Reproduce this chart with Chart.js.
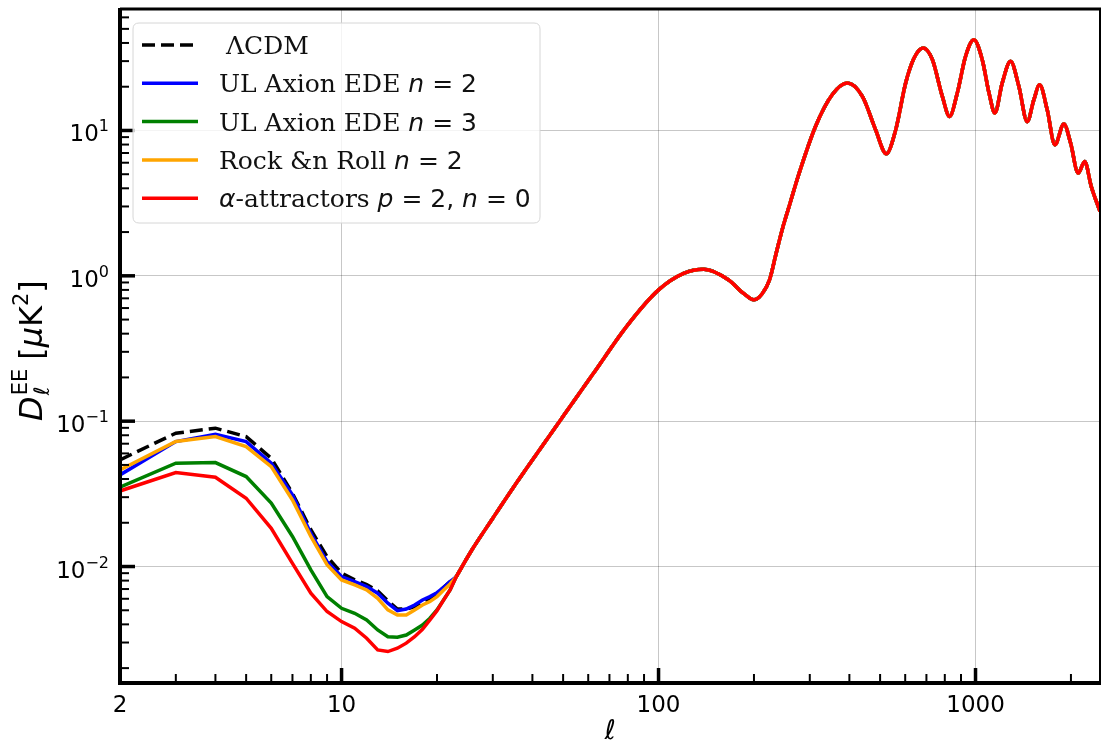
<!DOCTYPE html>
<html>
<head>
<meta charset="utf-8">
<script src="https://cdn.jsdelivr.net/npm/chart.js@4.4.0/dist/chart.umd.min.js"></script>
<style>
html, body { margin: 0; padding: 0; background: #fff; }
#wrap { width: 1101px; height: 743px; }
</style>
</head>
<body>
<div id="wrap"><canvas id="cl_ee" width="1101" height="743"></canvas></div>
<script>
// low multipoles, one value per integer ell
var ellLow = [2, 3, 4, 5, 6, 7, 8, 9, 10, 11, 12, 13, 14, 15, 16, 17, 18, 19, 20, 21, 22];
var lcdmLow   = [0.0542, 0.0827, 0.0895, 0.0783, 0.0556, 0.0319, 0.0179, 0.0117, 0.0090, 0.0081, 0.0075, 0.0068, 0.0058, 0.0051, 0.0051, 0.0053, 0.00574, 0.00604, 0.00655, 0.0072, 0.00787];
var axion2Low = [0.0427, 0.0724, 0.0813, 0.0724, 0.0514, 0.0311, 0.0169, 0.0108, 0.00853, 0.00787, 0.00727, 0.00655, 0.00559, 0.00497, 0.0051, 0.00544, 0.00589, 0.00621, 0.00661, 0.0072, 0.00787];
var axion3Low = [0.0351, 0.0514, 0.0519, 0.0416, 0.0273, 0.0161, 0.00948, 0.00621, 0.00516, 0.00477, 0.00429, 0.00366, 0.00329, 0.00326, 0.00338, 0.00366, 0.00396, 0.00441, 0.00503, 0.0059, 0.0069];
var rnrLow    = [0.0462, 0.0724, 0.0783, 0.0669, 0.0487, 0.0287, 0.0161, 0.0103, 0.00809, 0.00747, 0.0069, 0.00604, 0.00503, 0.00464, 0.00464, 0.00503, 0.00544, 0.00574, 0.00621, 0.0069, 0.00759];
var alphaLow  = [0.0331, 0.0443, 0.0411, 0.0295, 0.0183, 0.0105, 0.00655, 0.0049, 0.00418, 0.00376, 0.00321, 0.00267, 0.0026, 0.00274, 0.00297, 0.00329, 0.0037, 0.00429, 0.00497, 0.0059, 0.0069];

// all models sit on top of each other above ell ~ 23
var ellHigh = [23, 24, 26, 30, 35, 40, 50, 62, 80, 100, 120, 139, 166, 185, 200, 212, 224, 235, 247, 260, 277, 313, 353, 394, 440, 484, 523, 560, 602, 640, 684, 731, 786, 828, 876, 930, 988, 1050, 1103, 1151, 1214, 1290, 1370, 1456, 1528, 1593, 1683, 1780, 1900, 1995, 2108, 2210, 2318, 2470];
var tailHigh = [0.0085, 0.0100, 0.0134, 0.0215, 0.0355, 0.054, 0.108, 0.21, 0.46, 0.80, 1.04, 1.11, 0.94, 0.76, 0.684, 0.75, 0.94, 1.43, 2.18, 3.16, 5.0, 10.7, 17.6, 21.2, 17.1, 10.1, 6.91, 10.1, 21.2, 31.5, 36.9, 30.7, 17.1, 12.5, 18.1, 32.3, 42.1, 30.7, 18.1, 13.2, 21.2, 29.9, 20.1, 11.5, 16.3, 20.6, 13.9, 7.97, 11.1, 8.19, 5.09, 6.12, 4.12, 2.77];

var xTicks = [2, 3, 4, 5, 6, 7, 8, 9, 10, 20, 30, 40, 50, 60, 70, 80, 90, 100, 200, 300, 400, 500, 600, 700, 800, 900, 1000, 2000];
var xTickLabels = ['2', '10', '100', '1000'];
var yTicks = [0.002, 0.003, 0.004, 0.005, 0.006, 0.007, 0.008, 0.009, 0.01, 0.02, 0.03, 0.04, 0.05, 0.06, 0.07, 0.08, 0.09, 0.1, 0.2, 0.3, 0.4, 0.5, 0.6, 0.7, 0.8, 0.9, 1, 2, 3, 4, 5, 6, 7, 8, 9, 10, 20, 30, 40, 50, 60];
var yTickExps = [-2, -1, 0, 1];

var SERIF = '"DejaVu Serif", serif';
var SANS = '"DejaVu Sans", sans-serif';

function lowPoints(low){
    var pts = ellLow.map(function(l, i){ return {x: l, y: low[i]}; });
    pts.push({x: ellHigh[0], y: tailHigh[0]});
    return pts;
}
function tailPoints(){
    return ellHigh.map(function(l, i){ return {x: l, y: tailHigh[i]}; });
}

function isDecade(v){
    var l = Math.log10(v);
    return Math.abs(l - Math.round(l)) < 1e-6;
}

// pieces: [text, font, dy]
function piecesWidth(ctx, pieces){
    var w = 0;
    pieces.forEach(function(p){ ctx.font = p[1]; w += ctx.measureText(p[0]).width; });
    return w;
}
function drawPieces(ctx, x, y, pieces){
    var cx = x;
    pieces.forEach(function(p){
        ctx.font = p[1];
        ctx.fillText(p[0], cx, y + (p[2] || 0));
        cx += ctx.measureText(p[0]).width;
    });
    return cx;
}

var LF = 25;
var legendRows = [
    {color: '#000000', dash: [13, 6], x: 226, pieces: [['ΛCDM', LF + 'px ' + SERIF]]},
    {color: '#0000ff', dash: [], x: 219, pieces: [['UL Axion EDE ', LF + 'px ' + SERIF], ['n', 'italic ' + LF + 'px ' + SANS], [' = 2', LF + 'px ' + SANS]]},
    {color: '#008000', dash: [], x: 219, pieces: [['UL Axion EDE ', LF + 'px ' + SERIF], ['n', 'italic ' + LF + 'px ' + SANS], [' = 3', LF + 'px ' + SANS]]},
    {color: '#ffa500', dash: [], x: 219, pieces: [['Rock &n Roll ', LF + 'px ' + SERIF], ['n', 'italic ' + LF + 'px ' + SANS], [' = 2', LF + 'px ' + SANS]]},
    {color: '#ff0000', dash: [], x: 219, pieces: [['α', 'italic ' + LF + 'px ' + SANS], ['-attractors ', LF + 'px ' + SERIF], ['p', 'italic ' + LF + 'px ' + SANS], [' = 2, ', LF + 'px ' + SANS], ['n', 'italic ' + LF + 'px ' + SANS], [' = 0', LF + 'px ' + SANS]]}
];

var decor = {
    id: 'decor',
    afterDraw: function(chart){
        var ctx = chart.ctx, a = chart.chartArea;
        var xs = chart.scales.x, ys = chart.scales.y;
        ctx.save();
        ctx.fillStyle = '#000';
        ctx.strokeStyle = '#000';
        ctx.lineCap = 'butt';

        // inward ticks
        xTicks.forEach(function(v){
            var px = xs.getPixelForValue(v), big = isDecade(v);
            ctx.lineWidth = big ? 3.5 : 2;
            ctx.beginPath(); ctx.moveTo(px, a.bottom); ctx.lineTo(px, a.bottom - (big ? 15 : 9)); ctx.stroke();
        });
        yTicks.forEach(function(v){
            var py = ys.getPixelForValue(v), big = isDecade(v);
            ctx.lineWidth = big ? 3.5 : 2;
            ctx.beginPath(); ctx.moveTo(a.left, py); ctx.lineTo(a.left + (big ? 15 : 9), py); ctx.stroke();
        });

        // frame
        ctx.lineWidth = 4;
        ctx.beginPath(); ctx.moveTo(a.left, a.top - 1); ctx.lineTo(a.left, a.bottom + 2); ctx.stroke();
        ctx.beginPath(); ctx.moveTo(a.left - 2, a.bottom); ctx.lineTo(a.right + 1, a.bottom); ctx.stroke();
        ctx.lineWidth = 3;
        ctx.beginPath(); ctx.moveTo(a.left, a.top); ctx.lineTo(a.right + 1, a.top); ctx.stroke();
        ctx.lineWidth = 2;
        ctx.beginPath(); ctx.moveTo(a.right, a.top); ctx.lineTo(a.right, a.bottom); ctx.stroke();

        // x tick labels
        ctx.font = '23px ' + SANS;
        ctx.textAlign = 'center';
        ctx.textBaseline = 'alphabetic';
        xTickLabels.forEach(function(t){
            ctx.fillText(t, xs.getPixelForValue(Number(t)), a.bottom + 29);
        });

        // y tick labels 10^k
        ctx.textAlign = 'left';
        yTickExps.forEach(function(k){
            var py = ys.getPixelForValue(Math.pow(10, k));
            var ex = (k < 0 ? '\u2212' : '') + Math.abs(k);
            var pcs = [['10', '23px ' + SANS, 11], [ex, '16px ' + SANS, 1]];
            var w = piecesWidth(ctx, pcs);
            drawPieces(ctx, a.left - 11 - w, py, pcs);
        });

        // x title
        ctx.font = 'italic 27px ' + SANS;
        ctx.textAlign = 'center';
        ctx.fillText('\u2113', (a.left + a.right) / 2, 739);

        // y title, rotated; local x runs up the page
        ctx.save();
        ctx.translate(42, 0);
        ctx.rotate(-Math.PI / 2);
        ctx.textAlign = 'left';
        var big = 'px ' + SANS;
        ctx.font = 'italic 32' + big;
        var dx = -421;
        ctx.fillText('D', dx, 0);
        dx += ctx.measureText('D').width + 1;
        ctx.font = 'italic 21' + big;
        ctx.fillText('\u2113', dx, 7);
        ctx.font = '21' + big;
        ctx.fillText('EE', dx, -15);
        dx += ctx.measureText('EE').width + 9;
        var br = [['[', '32' + big, 0], ['\u03bc', 'italic 32' + big, 0], ['K', '32' + big, 0], ['2', '21' + big, -14], [']', '32' + big, 0]];
        drawPieces(ctx, dx, 0, br);
        ctx.restore();

        // legend
        var lx = 133, ly = 23, lw = 407, lh = 200, r = 6;
        ctx.beginPath();
        ctx.moveTo(lx + r, ly); ctx.lineTo(lx + lw - r, ly); ctx.quadraticCurveTo(lx + lw, ly, lx + lw, ly + r);
        ctx.lineTo(lx + lw, ly + lh - r); ctx.quadraticCurveTo(lx + lw, ly + lh, lx + lw - r, ly + lh);
        ctx.lineTo(lx + r, ly + lh); ctx.quadraticCurveTo(lx, ly + lh, lx, ly + lh - r);
        ctx.lineTo(lx, ly + r); ctx.quadraticCurveTo(lx, ly, lx + r, ly);
        ctx.closePath();
        ctx.fillStyle = 'rgba(255,255,255,0.8)';
        ctx.fill();
        ctx.strokeStyle = '#d6d6d6';
        ctx.lineWidth = 1;
        ctx.stroke();

        ctx.textAlign = 'left';
        legendRows.forEach(function(row, i){
            var cy = 45 + i * 38.3;
            ctx.strokeStyle = row.color;
            ctx.lineWidth = 3.5;
            ctx.setLineDash(row.dash);
            ctx.beginPath(); ctx.moveTo(142, cy); ctx.lineTo(198, cy); ctx.stroke();
            ctx.setLineDash([]);
            ctx.fillStyle = '#111';
            drawPieces(ctx, row.x, cy + 9, row.pieces);
        });
        ctx.restore();
    }
};

// each model: straight segments between integer ells, smooth shared tail
function modelSets(label, low, color, order, dash){
    var base = {
        borderColor: color,
        backgroundColor: color,
        borderWidth: 3.5,
        borderDash: dash || [],
        pointRadius: 0,
        fill: false,
        order: order
    };
    return [
        Object.assign({label: label, data: lowPoints(low), tension: 0}, base),
        Object.assign({label: label + ' (tail)', data: tailPoints(), cubicInterpolationMode: 'monotone'}, base)
    ];
}

var gridColor = 'rgba(0,0,0,0.22)';

new Chart(document.getElementById('cl_ee'), {
    type: 'line',
    data: {
        datasets: [].concat(
            modelSets('\u039bCDM', lcdmLow, '#000000', 4, [13, 6]),
            modelSets('UL Axion EDE n=2', axion2Low, '#0000ff', 3),
            modelSets('UL Axion EDE n=3', axion3Low, '#008000', 2),
            modelSets('Rock &n Roll n=2', rnrLow, '#ffa500', 1),
            modelSets('\u03b1-attractors p=2, n=0', alphaLow, '#ff0000', 0)
        )
    },
    options: {
        responsive: false,
        devicePixelRatio: 1,
        animation: false,
        layout: { padding: { left: 120, top: 9, right: 1, bottom: 60 } },
        plugins: { legend: { display: false }, tooltip: { enabled: false } },
        scales: {
            x: {
                type: 'logarithmic', min: 2, max: 2470,
                ticks: { display: false },
                border: { display: false },
                grid: { drawTicks: false, lineWidth: 1, color: function(c){ return c.tick && isDecade(c.tick.value) && c.tick.value > 2 ? gridColor : 'rgba(0,0,0,0)'; } },
                afterBuildTicks: function(axis){ axis.ticks = xTicks.map(function(v){ return {value: v}; }); }
            },
            y: {
                type: 'logarithmic', min: 0.00158, max: 68.5,
                ticks: { display: false },
                border: { display: false },
                grid: { drawTicks: false, lineWidth: 1, color: function(c){ return c.tick && isDecade(c.tick.value) ? gridColor : 'rgba(0,0,0,0)'; } },
                afterBuildTicks: function(axis){ axis.ticks = yTicks.map(function(v){ return {value: v}; }); }
            }
        }
    },
    plugins: [decor]
});
</script>
</body>
</html>
